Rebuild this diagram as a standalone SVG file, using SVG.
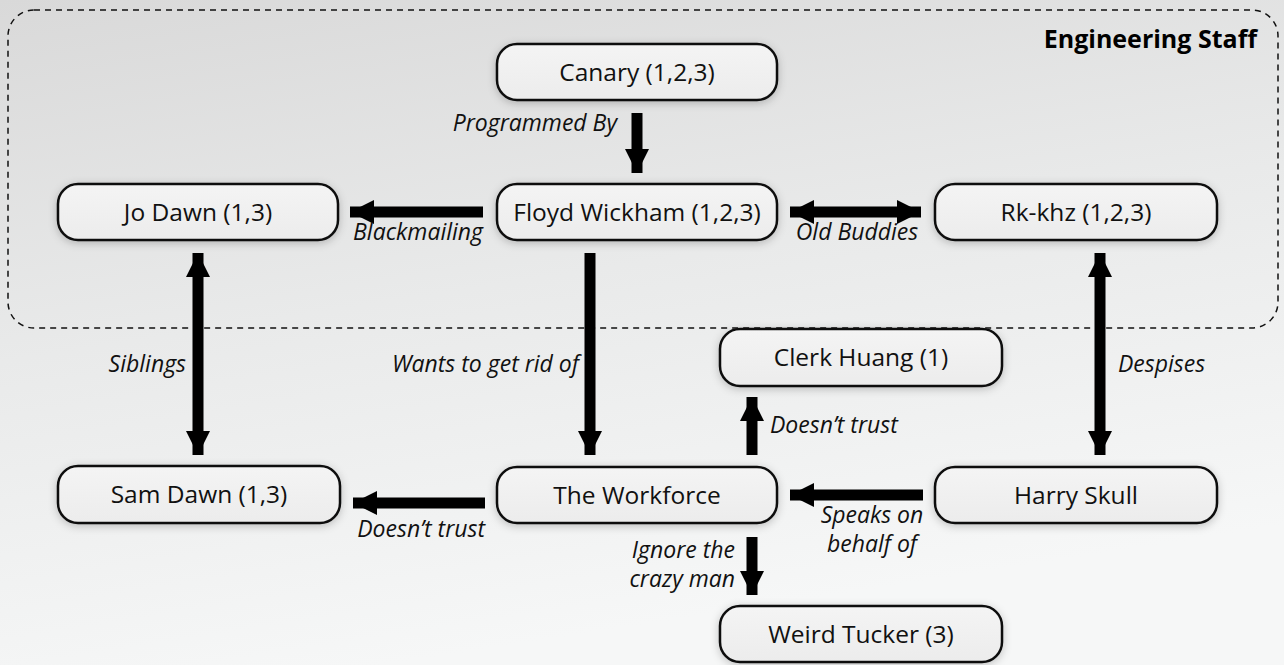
<svg xmlns="http://www.w3.org/2000/svg" width="1284" height="665" viewBox="0 0 1284 665">
<defs>
<linearGradient id="bg" x1="0" y1="0" x2="0.3" y2="1">
<stop offset="0" stop-color="#d9d9d9"/>
<stop offset="0.5" stop-color="#e9eaea"/>
<stop offset="1" stop-color="#f6f7f7"/>
</linearGradient>
<linearGradient id="nodefill" x1="0" y1="0" x2="0" y2="1">
<stop offset="0" stop-color="#f4f4f4"/>
<stop offset="1" stop-color="#ececec"/>
</linearGradient>
<filter id="sh" x="-20%" y="-40%" width="140%" height="180%">
<feDropShadow dx="0" dy="2" stdDeviation="4" flood-color="#000" flood-opacity="0.22"/>
</filter>
<marker id="ah" viewBox="0 0 10 10" refX="10" refY="5" markerWidth="2.2" markerHeight="2.4" markerUnits="strokeWidth" orient="auto-start-reverse">
<path d="M0,0 L10,5 L0,10 z" fill="#000"/>
</marker>
</defs>
<style>
.node rect{fill:url(#nodefill);stroke:#111;stroke-width:2.5;filter:url(#sh)}
.node text{font-family:"Open Sans","Noto Sans",sans-serif;font-size:24.5px;fill:#111;text-anchor:middle}
.lbl{font-family:"Open Sans","Noto Sans",sans-serif;font-size:23px;font-style:italic;fill:#111}
.c line{stroke:#000;stroke-width:11}
</style>
<rect x="0" y="0" width="1284" height="665" fill="url(#bg)"/>
<g id="engineering-staff">
<rect x="8" y="10" width="1270" height="318" rx="26" fill="none" stroke="#111" stroke-width="1.5" stroke-dasharray="6,5"/>
<text x="1257" y="48" font-family="Open Sans,Noto Sans,sans-serif" font-size="25px" font-weight="bold" fill="#000" text-anchor="end">Engineering Staff</text>
</g>
<g id="canary" class="node"><rect x="497" y="44" width="280" height="56" rx="20"/><text x="637" y="81">Canary (1,2,3)</text></g>
<g id="floyd" class="node"><rect x="497" y="184" width="280" height="56" rx="20"/><text x="637" y="221">Floyd Wickham (1,2,3)</text></g>
<g id="jo" class="node"><rect x="58" y="184" width="280" height="56" rx="20"/><text x="198" y="221">Jo Dawn (1,3)</text></g>
<g id="rk" class="node"><rect x="935" y="184" width="282" height="56" rx="20"/><text x="1076" y="221">Rk-khz (1,2,3)</text></g>
<g id="clerk" class="node"><rect x="720" y="329" width="282" height="57" rx="20"/><text x="861" y="366">Clerk Huang (1)</text></g>
<g id="workforce" class="node"><rect x="497" y="467" width="280" height="56" rx="20"/><text x="637" y="504">The Workforce</text></g>
<g id="harry" class="node"><rect x="935" y="467" width="282" height="56" rx="20"/><text x="1076" y="504">Harry Skull</text></g>
<g id="sam" class="node"><rect x="58" y="466" width="282" height="57" rx="20"/><text x="199" y="503">Sam Dawn (1,3)</text></g>
<g id="weird" class="node"><rect x="720" y="606" width="282" height="56" rx="20"/><text x="861" y="643">Weird Tucker (3)</text></g>
<g id="connectors" class="c">
<line x1="637" y1="113" x2="637" y2="173" marker-end="url(#ah)"/>
<line x1="483" y1="212" x2="350" y2="212" marker-end="url(#ah)"/>
<line x1="790" y1="212" x2="921" y2="212" marker-start="url(#ah)" marker-end="url(#ah)"/>
<line x1="590" y1="253" x2="590" y2="455" marker-end="url(#ah)"/>
<line x1="198" y1="253" x2="198" y2="455" marker-start="url(#ah)" marker-end="url(#ah)"/>
<line x1="1100" y1="253" x2="1100" y2="455" marker-start="url(#ah)" marker-end="url(#ah)"/>
<line x1="752" y1="455" x2="752" y2="397" marker-end="url(#ah)"/>
<line x1="923" y1="495" x2="790" y2="495" marker-end="url(#ah)"/>
<line x1="485" y1="503" x2="353" y2="503" marker-end="url(#ah)"/>
<line x1="752" y1="537" x2="752" y2="595" marker-end="url(#ah)"/>
</g>
<g id="labels">
<text class="lbl" x="617" y="131" text-anchor="end">Programmed By</text>
<text class="lbl" x="483" y="240" text-anchor="end">Blackmailing</text>
<text class="lbl" x="857" y="240" text-anchor="middle">Old Buddies</text>
<text class="lbl" x="186" y="372" text-anchor="end">Siblings</text>
<text class="lbl" x="579" y="372" text-anchor="end">Wants to get rid of</text>
<text class="lbl" x="1118" y="372">Despises</text>
<text class="lbl" x="770" y="433">Doesn’t trust</text>
<text class="lbl" x="872" y="523" text-anchor="middle">Speaks on</text>
<text class="lbl" x="872" y="552" text-anchor="middle">behalf of</text>
<text class="lbl" x="485" y="537" text-anchor="end">Doesn’t trust</text>
<text class="lbl" x="735" y="558" text-anchor="end">Ignore the</text>
<text class="lbl" x="735" y="587" text-anchor="end">crazy man</text>
</g>
</svg>
